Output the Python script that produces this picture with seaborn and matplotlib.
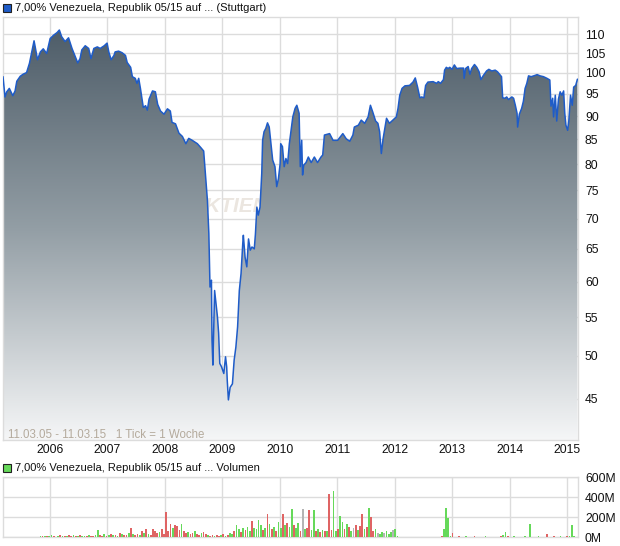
import numpy as np
import pandas as pd
import matplotlib
matplotlib.use("Agg")
import matplotlib.pyplot as plt
import seaborn as sns
from matplotlib.colors import LinearSegmentedColormap
from matplotlib.patches import Rectangle
from matplotlib.ticker import NullLocator

# weekly closing prices (decimal year, price in %)
price_years = [
    2005.19, 2005.225, 2005.255, 2005.30, 2005.36, 2005.40, 2005.43, 2005.49, 2005.54, 2005.60,
    2005.65, 2005.69, 2005.73, 2005.75, 2005.79, 2005.84, 2005.89, 2005.95, 2006.01, 2006.07,
    2006.13, 2006.17, 2006.21, 2006.27, 2006.33, 2006.39, 2006.45, 2006.49, 2006.53, 2006.56,
    2006.62, 2006.68, 2006.72, 2006.77, 2006.83, 2006.88, 2006.95, 2007.00, 2007.03, 2007.07,
    2007.12, 2007.14, 2007.20, 2007.26, 2007.32, 2007.35, 2007.41, 2007.44, 2007.49, 2007.52,
    2007.55, 2007.58, 2007.63, 2007.67, 2007.70, 2007.73, 2007.79, 2007.84, 2007.88, 2007.93,
    2007.99, 2008.05, 2008.10, 2008.13, 2008.19, 2008.25, 2008.31, 2008.37, 2008.42, 2008.48,
    2008.57, 2008.63, 2008.68, 2008.715, 2008.745, 2008.77, 2008.79, 2008.815, 2008.825, 2008.84,
    2008.87, 2008.89, 2008.92, 2008.94, 2008.96, 2008.99, 2009.03, 2009.06, 2009.08, 2009.09,
    2009.11, 2009.14, 2009.18, 2009.21, 2009.24, 2009.27, 2009.30, 2009.33, 2009.36, 2009.37,
    2009.40, 2009.43, 2009.46, 2009.49, 2009.52, 2009.56, 2009.58, 2009.605, 2009.63, 2009.66,
    2009.69, 2009.705, 2009.73, 2009.76, 2009.79, 2009.82, 2009.85, 2009.88, 2009.92, 2009.95,
    2009.98, 2010.01, 2010.02, 2010.05, 2010.08, 2010.11, 2010.14, 2010.17, 2010.20, 2010.23,
    2010.27, 2010.30, 2010.34, 2010.36, 2010.385, 2010.40, 2010.42, 2010.46, 2010.50, 2010.55,
    2010.605, 2010.66, 2010.72, 2010.75, 2010.78, 2010.87, 2010.93, 2011.01, 2011.10, 2011.16,
    2011.22, 2011.275, 2011.30, 2011.37, 2011.42, 2011.48, 2011.54, 2011.58, 2011.62, 2011.67,
    2011.71, 2011.74, 2011.77, 2011.80, 2011.86, 2011.91, 2011.97, 2012.03, 2012.06, 2012.09,
    2012.13, 2012.18, 2012.26, 2012.32, 2012.36, 2012.40, 2012.44, 2012.47, 2012.51, 2012.54,
    2012.58, 2012.67, 2012.73, 2012.76, 2012.80, 2012.85, 2012.87, 2012.90, 2012.93, 2012.96,
    2013.00, 2013.04, 2013.08, 2013.14, 2013.20, 2013.21, 2013.235, 2013.28, 2013.31, 2013.34,
    2013.39, 2013.43, 2013.47, 2013.50, 2013.54, 2013.60, 2013.64, 2013.69, 2013.75, 2013.79,
    2013.83, 2013.86, 2013.88, 2013.92, 2013.95, 2013.98, 2014.04, 2014.07, 2014.10, 2014.13,
    2014.14, 2014.17, 2014.21, 2014.24, 2014.27, 2014.30, 2014.33, 2014.375, 2014.42, 2014.48,
    2014.53, 2014.59, 2014.65, 2014.70, 2014.72, 2014.75, 2014.765, 2014.795, 2014.82, 2014.85,
    2014.88, 2014.91, 2014.94, 2014.96, 2014.98, 2015.01, 2015.03, 2015.06, 2015.09, 2015.115,
    2015.15, 2015.18,
]
price_values = [
    99.1, 94.3, 95.5, 96.3, 94.6, 95.7, 98.0, 99.2, 99.7, 100.1,
    102.4, 105.3, 108.2, 106.6, 103.3, 105.3, 106.1, 104.9, 108.8, 109.7,
    110.4, 111.1, 109.3, 108.0, 109.0, 106.2, 104.0, 102.5, 103.6, 105.8,
    106.9, 106.2, 103.6, 106.2, 106.6, 106.2, 106.9, 107.6, 105.3, 103.3,
    104.4, 105.3, 105.5, 105.1, 104.4, 102.6, 101.4, 99.1, 98.7, 97.5,
    98.7, 96.3, 91.9, 92.3, 91.3, 93.8, 95.7, 95.5, 92.6, 91.1,
    90.4, 91.6, 91.1, 88.6, 88.3, 86.3, 85.6, 84.1, 85.2, 84.8,
    84.1, 83.3, 82.6, 77.3, 73.2, 67.5, 59.2, 60.2, 52.0, 48.9,
    58.7, 57.2, 55.0, 52.9, 49.1, 48.7, 47.9, 49.9, 48.7, 47.1,
    44.9, 46.3, 46.7, 49.5, 51.1, 53.7, 58.7, 61.2, 65.9, 67.2,
    63.7, 62.2, 66.6, 64.8, 65.3, 65.0, 67.4, 72.0, 70.6, 72.0,
    78.2, 84.8, 86.6, 87.3, 88.5, 87.6, 84.1, 80.8, 79.5, 75.7,
    77.2, 80.1, 84.1, 83.5, 79.5, 81.1, 80.1, 84.1, 86.9, 89.8,
    91.7, 92.4, 90.6, 79.5, 84.8, 77.9, 79.8, 80.3, 81.4, 80.3,
    81.4, 80.3, 81.4, 81.8, 85.9, 86.2, 84.8, 84.8, 86.2, 85.1,
    84.6, 85.9, 87.6, 88.0, 89.1, 88.4, 89.8, 92.4, 90.9, 88.9,
    88.4, 86.6, 82.1, 85.1, 89.5, 88.4, 89.1, 89.8, 91.7, 94.7,
    96.3, 96.9, 97.0, 97.8, 98.8, 96.6, 94.1, 94.3, 94.1, 97.0,
    97.8, 97.9, 97.5, 97.9, 97.5, 98.4, 100.7, 101.4, 101.1, 101.4,
    100.9, 102.0, 101.1, 101.2, 101.2, 98.7, 101.1, 101.6, 99.7, 101.1,
    102.1, 101.4, 100.3, 98.4, 99.3, 100.5, 100.9, 100.5, 100.7, 100.3,
    99.6, 99.1, 94.1, 94.0, 94.3, 93.7, 94.3, 94.0, 92.4, 90.6,
    87.6, 90.4, 91.7, 93.3, 96.3, 97.5, 99.3, 99.1, 99.3, 99.6,
    99.3, 99.1, 98.7, 98.3, 92.2, 94.0, 89.8, 94.7, 88.9, 93.8,
    95.5, 94.7, 95.7, 90.6, 88.0, 86.9, 88.9, 94.7, 92.4, 96.6,
    97.0, 98.5,
]

# bi-weekly volume in millions, starting 04.11.2005
vol_start = "2005-11-04"
vol_millions = [
    # 2005/06
    8, 12, 6, 15, 10, 18, 8, 5, 12, 20, 10, 6, 14, 22, 9, 16, 12, 8, 18, 10, 6, 14, 20, 12, 8, 16,
    # 2006/07
    70, 20, 15, 30, 12, 25, 35, 18, 22, 15, 40, 30, 20, 25, 45, 87, 30, 20, 35, 25, 60, 40, 80, 30, 25, 80,
    # 2007/08
    60, 40, 50, 80, 30, 250, 60, 130, 90, 120, 110, 70, 130, 60, 40, 50, 30, 45, 60, 35, 25, 40, 55, 30, 20, 15,
    # 2008/09
    20, 15, 25, 10, 20, 30, 15, 25, 40, 30, 60, 120, 80, 50, 90, 70, 100, 60, 160, 90, 80, 170, 120, 70, 90, 230,
    # 2009/10
    130, 80, 100, 60, 150, 90, 230, 120, 140, 100, 280, 120, 90, 140, 60, 280, 80, 90, 270, 70, 270, 60, 80, 50, 70, 60,
    # 2010/11
    60, 430, 70, 460, 60, 80, 210, 150, 80, 130, 100, 60, 90, 120, 70, 110, 230, 80, 100, 290, 200, 60, 80, 40, 30, 50,
    # 2011/12
    40, 60, 30, 50, 70, 80, 10, 5, 5, 5, 5, 5, 5, 5, 5, 5, 5, 5, 5, 5, 5, 5, 5, 5, 5, 5,
    # 2012/13
    10, 80, 290, 190, 10, 40, 5, 5, 8, 5, 5, 10, 5, 5, 5, 8, 5, 5, 5, 5, 10, 5, 5, 5, 5, 5,
    # 2013/14
    5, 10, 20, 50, 8, 5, 5, 10, 5, 5, 5, 5, 8, 5, 130, 5, 5, 5, 10, 5, 5, 5, 30, 5, 5, 8,
    # 2014/15
    5, 5, 10, 5, 5, 8, 10, 120, 15,
]
# g = up week, r = down week, n = unchanged
vol_direction = (
    "grgrggrrgrgrgrrgrgrggrgrrg"
    "grrgrgrgrgrgrrgrgrrgrgrgrr"
    "rrgrrrrrgrrrgrrgrrgrrgrrgr"
    "rgrrgrgrggrggrgrggrggggrgr"
    "grgrggrgrggrggrngrrggrgrgr"
    "grrggrggrgrgnrgrrgrgrrgngg"
    "ngggnggrrrrrrrrrrrrrrrrrrr"
    "rggggrrrrrrgrrrrrrrrgrrrrr"
    "rrggrrrgrrrrgrgrrrgrrrrrrr"
    "rrgrrrggg"
)

years = [2006, 2007, 2008, 2009, 2010, 2011, 2012, 2013, 2014, 2015]
price_ticks = [45, 50, 55, 60, 65, 70, 75, 80, 85, 90, 95, 100, 105, 110]
vol_ticks = [0, 200, 400, 600]
title_main = "7,00% Venezuela, Republik 05/15 auf ... (Stuttgart)"
title_vol = "7,00% Venezuela, Republik 05/15 auf ... Volumen"
range_note = "11.03.05 - 11.03.15   1 Tick = 1 Woche"

vol_dates = pd.date_range(vol_start, periods=len(vol_millions), freq="14D")
vol_years = vol_dates.year + (vol_dates.dayofyear - 1) / 365.25
vol_df = pd.DataFrame({"year": vol_years, "vol": np.array(vol_millions) * 1e6,
                       "dir": list(vol_direction[:len(vol_millions)])})

sns.set_style("white")
plt.rcParams["font.family"] = ["Liberation Sans", "DejaVu Sans"]

W, H = 620, 546
fig = plt.figure(figsize=(W / 100, H / 100), dpi=100)

def frect(x0, y0, x1, y1):
    return [x0 / W, 1 - y1 / H, (x1 - x0) / W, (y1 - y0) / H]

grid_c = "#dcdcdc"
x_lo, x_hi = 2005.19, 2015.19
y_lo, y_hi = 40.7, 114.7

ax = fig.add_axes(frect(3, 17, 578, 440))
ax.set_yscale("log")
ax.set_xlim(x_lo, x_hi)
ax.set_ylim(y_lo, y_hi)
ax.set_autoscale_on(False)

# faint watermark, mostly hidden behind the area
ax.text(190 / W, 1 - 206 / H, "AKTIENCHECK", transform=fig.transFigure, fontsize=15,
        style="italic", fontweight="bold", color="#ebe6e0", va="center", ha="left",
        zorder=0.5)

sns.lineplot(x=price_years, y=price_values, ax=ax, color="#1f5cc8", linewidth=1.1,
             zorder=3, estimator=None)

poly = ax.fill_between(price_years, price_values, 30, color="none", linewidth=0)
cmap = LinearSegmentedColormap.from_list(
    "area", [(0.0, "#f5f6f7"), (0.5, "#939ea5"), (1.0, "#4a5965")])
grad = np.linspace(0, 1, 256).reshape(-1, 1)
im = ax.imshow(grad, extent=[0, 1, 0, 1], transform=ax.transAxes, aspect="auto",
               origin="lower", cmap=cmap, zorder=2, interpolation="bilinear")
im.set_clip_path(poly.get_paths()[0], transform=ax.transData)
ax.set_xlim(x_lo, x_hi)
ax.set_ylim(y_lo, y_hi)

ax.set_yticks(price_ticks)
ax.set_yticklabels([str(t) for t in price_ticks])
ax.yaxis.set_minor_locator(NullLocator())
ax.yaxis.tick_right()
ax.set_xticks(years)
ax.set_xticklabels([str(y) for y in years])
ax.tick_params(axis="both", length=0, labelsize=8.7, colors="#111111")
ax.tick_params(axis="y", pad=5)
ax.tick_params(axis="x", pad=3)
ax.grid(True, color=grid_c, linewidth=1)
ax.set_axisbelow(True)
for s in ax.spines.values():
    s.set_color(grid_c)
    s.set_linewidth(1)
ax.text(5 / 575, 5 / 423, range_note, transform=ax.transAxes, fontsize=8.3,
        color="#b4aa9c", ha="left", va="center", zorder=4)

# volume panel
axv = fig.add_axes(frect(3, 477, 578, 537))
for d, c in [("g", "#66d95a"), ("r", "#df6464"), ("n", "#b4b4b4")]:
    sub = vol_df[vol_df["dir"] == d]
    axv.bar(sub["year"], sub["vol"], width=0.03, color=c, linewidth=0, zorder=3,
            antialiased=False)
axv.set_xlim(x_lo, x_hi)
axv.set_ylim(0, 600e6)
axv.set_xticks(years)
axv.set_xticklabels([])
axv.set_yticks([t * 1e6 for t in vol_ticks])
axv.set_yticklabels([f"{t}M" for t in vol_ticks])
axv.yaxis.tick_right()
axv.tick_params(axis="both", length=0, labelsize=8.7, colors="#111111")
axv.tick_params(axis="y", pad=5)
axv.grid(True, color=grid_c, linewidth=1)
axv.set_axisbelow(True)
for s in axv.spines.values():
    s.set_color(grid_c)
    s.set_linewidth(1)

# panel titles with colour squares
fig.patches.append(Rectangle((3 / W, 1 - 12 / H), 8 / W, 8 / H, transform=fig.transFigure,
                             facecolor="#1f5cc8", edgecolor="#222222", linewidth=0.8))
fig.text(15 / W, 1 - 8 / H, title_main, fontsize=8.0, va="center", ha="left", color="#111111")
fig.patches.append(Rectangle((3 / W, 1 - 472 / H), 8 / W, 8 / H, transform=fig.transFigure,
                             facecolor="#66d95a", edgecolor="#222222", linewidth=0.8))
fig.text(15 / W, 1 - 468 / H, title_vol, fontsize=8.0, va="center", ha="left", color="#111111")

fig.savefig("out.png", dpi=100)
